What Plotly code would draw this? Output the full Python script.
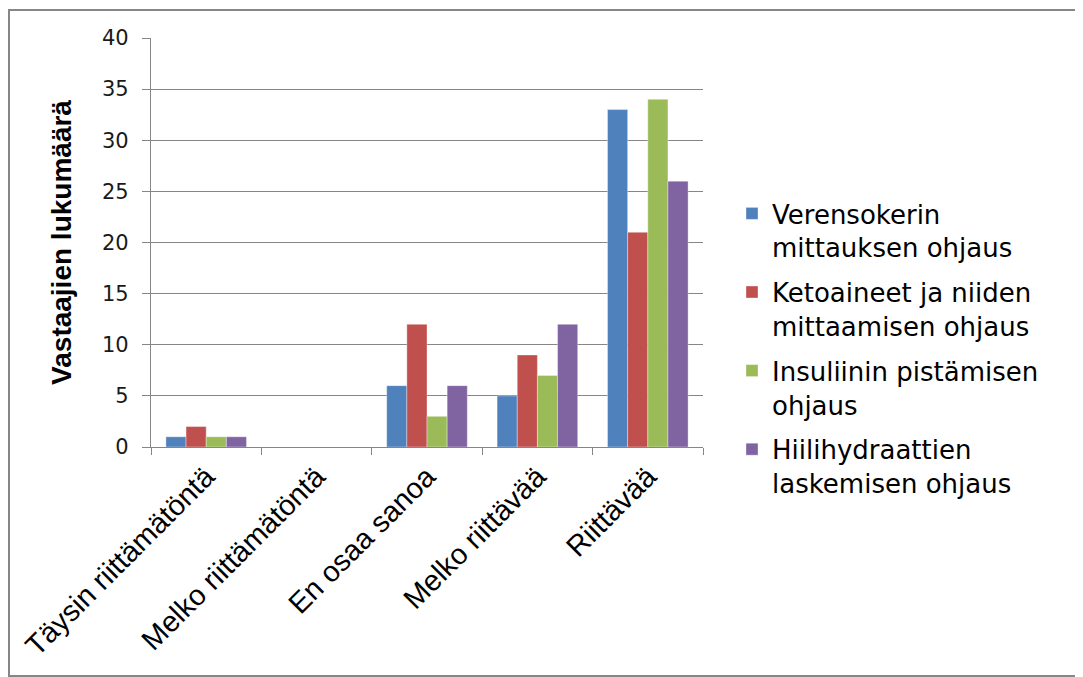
import plotly.graph_objects as go

categories = ["Täysin riittämätöntä", "Melko riittämätöntä", "En osaa sanoa", "Melko riittävää", "Riittävää"]
series_names = [
    "Verensokerin<br>mittauksen ohjaus",
    "Ketoaineet ja niiden<br>mittaamisen ohjaus",
    "Insuliinin pistämisen<br>ohjaus",
    "Hiilihydraattien<br>laskemisen ohjaus",
]
verensokeri = [1, 0, 6, 5, 33]
ketoaineet = [2, 0, 12, 9, 21]
insuliini = [1, 0, 3, 7, 34]
hiilihydraatit = [1, 0, 6, 12, 26]
colors = ["#4F81BD", "#C0504D", "#9BBB59", "#8064A2"]

fig = go.Figure()
for i, (name, vals) in enumerate(zip(series_names, [verensokeri, ketoaineet, insuliini, hiilihydraatit])):
    fig.add_trace(go.Bar(
        x=categories, y=vals, name=name,
        marker=dict(color=colors[i], line=dict(color="rgba(255,255,255,0.6)", width=0.6)),
        legendgroup=f"g{i}",
    ))

OFF = 8  # page body margin
W, H = 1083 - OFF, 677 - OFF
L, R, T, B = 151 - OFF, 703 - OFF, 38 - OFF, 447 - OFF
pw, ph = R - L, B - T

fig.update_layout(
    width=W, height=H,
    margin=dict(l=L, r=W - R, t=T, b=H - B, autoexpand=False),
    paper_bgcolor="white", plot_bgcolor="white",
    barmode="group", bargap=0.27, bargroupgap=0.0,
    showlegend=True,
    legend=dict(
        x=(732 - OFF - L) / pw, y=(B - (190 - OFF)) / ph, xanchor="left", yanchor="top",
        font=dict(family="DejaVu Sans", size=26, color="#000000"),
        valign="top", tracegroupgap=8, itemwidth=30,
        bgcolor="rgba(0,0,0,0)",
    ),
    xaxis=dict(
        type="category", tickangle=-45,
        tickfont=dict(family="Liberation Sans", size=29, color="#000000"),
        showline=True, linecolor="#868686", linewidth=1.2,
        ticks="outside", tickson="boundaries", ticklen=7, tickcolor="#868686",
        showgrid=False,
    ),
    yaxis=dict(
        range=[0, 40], dtick=5,
        tickfont=dict(family="DejaVu Sans", size=21, color="#1a1a1a"),
        ticklabelstandoff=9,
        showline=True, linecolor="#868686", linewidth=1.2,
        ticks="outside", ticklen=8, tickcolor="#868686",
        showgrid=True, gridcolor="#868686", gridwidth=1.2,
        zeroline=False,
        title=dict(text="<b>Vastaajien lukumäärä</b>",
                   font=dict(family="Liberation Sans", size=28, color="#000000"),
                   standoff=22),
    ),
    shapes=[dict(
        type="rect", xref="paper", yref="paper",
        x0=(9 - OFF - L) / pw, x1=(1077 - OFF - L) / pw,
        y0=(B - (676 - OFF)) / ph, y1=(B - (10 - OFF)) / ph,
        line=dict(color="#868686", width=2), fillcolor="rgba(0,0,0,0)", layer="below",
    )],
)

fig.write_html("out.html")
